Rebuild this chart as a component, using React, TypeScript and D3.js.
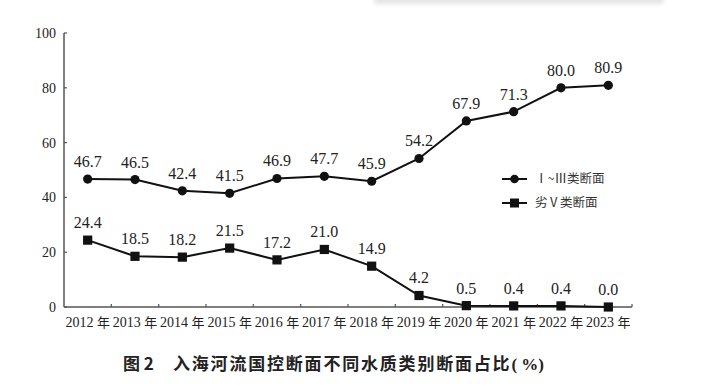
import { useEffect, useRef } from 'react';
import * as d3 from 'd3';

const years = ['2012', '2013', '2014', '2015', '2016', '2017', '2018', '2019', '2020', '2021', '2022', '2023'];
const goodShare = [46.7, 46.5, 42.4, 41.5, 46.9, 47.7, 45.9, 54.2, 67.9, 71.3, 80.0, 80.9];
const worstShare = [24.4, 18.5, 18.2, 21.5, 17.2, 21.0, 14.9, 4.2, 0.5, 0.4, 0.4, 0.0];
const yTicks = [0, 20, 40, 60, 80, 100];
const seriesNames = ['Ⅰ~Ⅲ类断面', '劣Ⅴ类断面'];
const title = '入海河流国控断面不同水质类别断面占比';

const W = 720;
const H = 389;
const serif = '"Liberation Serif", "DejaVu Serif", serif';
const sans = '"Noto Sans CJK SC", "Noto Sans", sans-serif';

export default function App() {
  const svgRef = useRef<SVGSVGElement>(null);

  useEffect(() => {
    const svg = d3.select(svgRef.current);
    svg.selectAll('*').remove();

    const left = 64, right = 632, top = 33, bottom = 307;

    // faint shadow strip at top
    const defs = svg.append('defs');
    const f = defs.append('filter').attr('id', 'blur').attr('x', -0.1).attr('y', -2).attr('width', 1.2).attr('height', 5);
    f.append('feGaussianBlur').attr('stdDeviation', 2);
    svg.append('rect').attr('x', 374).attr('y', -6).attr('width', 290).attr('height', 10)
      .attr('rx', 4).attr('fill', '#e4e4e4').attr('filter', 'url(#blur)');

    const x = d3.scaleBand().domain(years).range([left, right]);
    const y = d3.scaleLinear().domain([0, 100]).range([bottom, top]);
    const cx = (d: string) => (x(d) as number) + x.bandwidth() / 2;

    // axes
    svg.append('line').attr('x1', left).attr('x2', left).attr('y1', top).attr('y2', bottom)
      .attr('stroke', '#555').attr('stroke-width', 1.5);
    svg.append('line').attr('x1', left).attr('x2', right).attr('y1', bottom).attr('y2', bottom)
      .attr('stroke', '#555').attr('stroke-width', 1.5);

    yTicks.forEach(t => {
      svg.append('line').attr('x1', left).attr('x2', left + 3).attr('y1', y(t)).attr('y2', y(t))
        .attr('stroke', '#555').attr('stroke-width', 1.2);
      svg.append('text').attr('x', 56).attr('y', y(t)).attr('dy', '0.35em')
        .attr('text-anchor', 'end').attr('font-family', serif).attr('font-size', 14).attr('fill', '#222')
        .text(t);
    });

    years.forEach(yr => {
      const bx = (x(yr) as number) + x.bandwidth();
      svg.append('line').attr('x1', bx).attr('x2', bx).attr('y1', bottom).attr('y2', bottom - 3)
        .attr('stroke', '#555').attr('stroke-width', 1.2);
      const t = svg.append('text').attr('x', cx(yr)).attr('y', 327).attr('text-anchor', 'middle')
        .attr('font-family', serif).attr('font-size', 14).attr('fill', '#222');
      t.append('tspan').text(yr + ' ');
      t.append('tspan').attr('font-family', sans).attr('font-size', 13).text('年');
    });

    const line = d3.line<number>().x((_, i) => cx(years[i])).y(d => y(d));

    [goodShare, worstShare].forEach((vals, s) => {
      svg.append('path').datum(vals).attr('d', line).attr('fill', 'none')
        .attr('stroke', '#111').attr('stroke-width', 2);
      vals.forEach((v, i) => {
        if (s === 0) {
          svg.append('circle').attr('cx', cx(years[i])).attr('cy', y(v)).attr('r', 4.6).attr('fill', '#111');
        } else {
          svg.append('rect').attr('x', cx(years[i]) - 4.6).attr('y', y(v) - 4.6)
            .attr('width', 9.2).attr('height', 9.2).attr('fill', '#111');
        }
        svg.append('text').attr('x', cx(years[i])).attr('y', y(v) - 12).attr('text-anchor', 'middle')
          .attr('font-family', serif).attr('font-size', 16).attr('fill', '#222')
          .text(v.toFixed(1));
      });
    });

    // legend
    seriesNames.forEach((name, s) => {
      const ly = 179 + s * 24;
      svg.append('line').attr('x1', 502).attr('x2', 527).attr('y1', ly).attr('y2', ly)
        .attr('stroke', '#111').attr('stroke-width', 2);
      if (s === 0) svg.append('circle').attr('cx', 514.5).attr('cy', ly).attr('r', 4.3).attr('fill', '#111');
      else svg.append('rect').attr('x', 510).attr('y', ly - 4.5).attr('width', 9).attr('height', 9).attr('fill', '#111');
      svg.append('text').attr('x', 535).attr('y', ly).attr('dy', '0.35em')
        .attr('font-family', sans).attr('font-size', 12.5).attr('fill', '#333').text(name);
    });

    // caption
    const cap = svg.append('text').attr('x', 123).attr('y', 370).attr('font-family', sans)
      .attr('font-weight', 'bold').attr('font-size', 17).attr('fill', '#222');
    cap.append('tspan').text('图 2');
    cap.append('tspan').attr('x', 173).attr('letter-spacing', 1.8).text(title);
    cap.append('tspan').attr('font-family', serif).text('( %)');
  }, []);

  return (
    <div style={{ position: 'absolute', left: 0, top: 0, width: W, height: H, background: '#fff' }}>
      <svg ref={svgRef} width={W} height={H} style={{ display: 'block' }} />
    </div>
  );
}
